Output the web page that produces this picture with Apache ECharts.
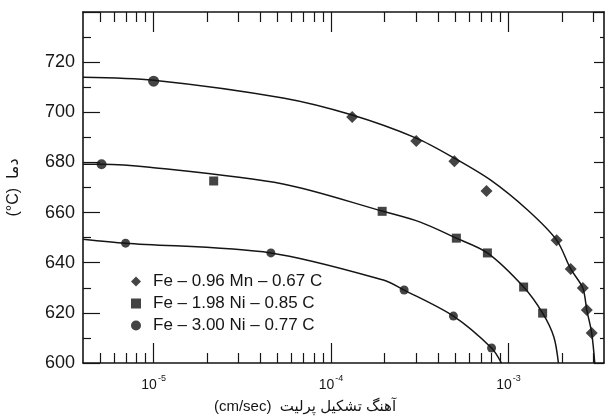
<!DOCTYPE html>
<html><head><meta charset="utf-8">
<script src="https://cdn.jsdelivr.net/npm/echarts@6/dist/echarts.min.js"></script>
<style>html,body{margin:0;padding:0;background:#fff}#c{width:605px;height:418px}</style>
</head><body><div id="c"></div>
<script>
// ---- data ----
const seriesNames = ['Fe – 0.96 Mn – 0.67 C', 'Fe – 1.98 Ni – 0.85 C', 'Fe – 3.00 Ni – 0.77 C'];

// measured points (growth rate cm/sec, temperature °C)
const mnRate   = [1.0e-5, 1.315e-4, 3.02e-4, 4.95e-4, 7.51e-4, 1.866e-3, 2.24e-3, 2.62e-3, 2.76e-3, 2.94e-3];
const mnTemp   = [712.4, 698.1, 688.5, 680.5, 668.6, 649.0, 637.5, 629.9, 621.1, 612.0];
const ni198Rate = [5.09e-6, 2.18e-5, 1.94e-4, 5.08e-4, 7.6e-4, 1.216e-3, 1.556e-3];
const ni198Temp = [679.3, 672.6, 660.5, 649.8, 643.9, 630.3, 619.9];
const ni300Rate = [6.95e-6, 4.58e-5, 2.58e-4, 4.89e-4, 8.02e-4];
const ni300Temp = [647.8, 643.9, 629.1, 618.7, 606.0];

// drawn fitted curves
const mnCurveRate = [4e-6, 1e-5, 5.36e-5, 1.315e-4, 3.02e-4, 4.95e-4, 7.9e-4, 1.28e-3, 1.866e-3, 2.24e-3, 2.62e-3, 2.76e-3, 2.94e-3, 3.06e-3];
const mnCurveTemp = [714.0, 712.8, 705.7, 698.9, 689.7, 681.7, 673.0, 661.0, 649.0, 637.5, 629.9, 621.1, 612.0, 600];
const ni198CurveRate = [4e-6, 5.09e-6, 9.5e-6, 5.36e-5, 1.94e-4, 3.18e-4, 5.08e-4, 7.6e-4, 1.216e-3, 1.556e-3, 1.80e-3, 1.91e-3];
const ni198CurveTemp = [679.3, 679.3, 678.1, 671.4, 660.6, 656.2, 649.8, 643.9, 630.3, 619.9, 610.4, 600];
const ni300CurveRate = [4e-6, 6.95e-6, 4.58e-5, 1.97e-4, 2.58e-4, 4.89e-4, 8.02e-4, 9.12e-4];
const ni300CurveTemp = [649.4, 647.8, 643.9, 633.1, 629.1, 618.7, 606.0, 600];

// axis ticks
const xMajorTicks = [1e-5, 1e-4, 1e-3];
const xMinorTicks = [5e-6, 6e-6, 7e-6, 8e-6, 9e-6,
  2e-5, 3e-5, 4e-5, 5e-5, 6e-5, 7e-5, 8e-5, 9e-5,
  2e-4, 3e-4, 4e-4, 5e-4, 6e-4, 7e-4, 8e-4, 9e-4,
  2e-3, 3e-3];
const xMin = 4e-6, xMax = 3.45e-3;
const yMin = 600, yMax = 740, yStep = 20;

const yTitle = '(°C)  دما';
const xTitle = '(cm/sec)  آهنگ تشکیل پرلیت';

// ---- build chart ----
const FONT = '"Liberation Sans", Arial, "DejaVu Sans", sans-serif';
const INK = '#151515';
const zip = (a, b) => a.map((v, i) => [v, b[i]]);

function xAxisDef(pos, ticks, len, showLine, showLabel) {
  return {
    type: 'log', position: pos, min: xMin, max: xMax, logBase: 10,
    axisLine: { show: showLine, onZero: false, lineStyle: { color: INK, width: 1.6 } },
    axisTick: { show: true, inside: true, length: len, customValues: ticks, lineStyle: { color: INK, width: 1.2 } },
    minorTick: { show: false },
    axisLabel: showLabel ? {
      show: true, customValues: xMajorTicks, margin: 11,
      formatter: v => '{b|10}{s|' + Math.round(Math.log10(v)) + '}',
      rich: {
        b: { fontSize: 14, fontFamily: FONT, color: INK, lineHeight: 18, verticalAlign: 'bottom' },
        s: { fontSize: 9, fontFamily: FONT, color: INK, lineHeight: 18, verticalAlign: 'top', padding: [0, 0, 0, 1] }
      }
    } : { show: false },
    splitLine: { show: false }
  };
}

function yAxisDef(pos, len, minorLen, showLabel) {
  return {
    type: 'value', position: pos, min: yMin, max: yMax, interval: yStep,
    axisLine: { show: true, onZero: false, lineStyle: { color: INK, width: 1.6 } },
    axisTick: { show: true, inside: true, length: len, lineStyle: { color: INK, width: 1.2 } },
    minorTick: { show: true, splitNumber: 2, length: minorLen, lineStyle: { color: INK, width: 1.2 } },
    axisLabel: showLabel ? { show: true, fontSize: 18, fontFamily: FONT, color: INK, margin: 8, showMaxLabel: false } : { show: false },
    splitLine: { show: false },
    name: showLabel ? yTitle : '',
    nameLocation: 'middle', nameGap: 61, nameRotate: 90,
    nameTextStyle: { fontSize: 16, fontFamily: FONT, color: INK }
  };
}

const curveStyle = { color: INK, width: 1.5 };
function curve(rates, temps) {
  return {
    type: 'line', data: zip(rates, temps), smooth: 0.3, showSymbol: false, symbol: 'none',
    lineStyle: curveStyle, silent: true, z: 2, xAxisIndex: 0, yAxisIndex: 0
  };
}

const chart = echarts.init(document.getElementById('c'), null, { renderer: 'canvas' });
chart.setOption({
  animation: false,
  backgroundColor: '#fff',
  grid: { left: 83, right: 1, top: 12, bottom: 55, containLabel: false, outerBoundsMode: 'none' },
  xAxis: [
    xAxisDef('bottom', xMajorTicks, 20, true, true),
    xAxisDef('bottom', xMinorTicks, 10, false, false),
    xAxisDef('top', xMajorTicks, 20, true, false),
    xAxisDef('top', xMinorTicks, 10, false, false)
  ],
  yAxis: [
    yAxisDef('left', 17, 8, true),
    yAxisDef('right', 10, 4, false)
  ],
  legend: {
    orient: 'vertical', left: 126, top: 268, itemWidth: 10, itemHeight: 10, itemGap: 5,
    data: seriesNames, selectedMode: false,
    textStyle: { fontSize: 17, fontFamily: FONT, color: INK, padding: [0, 0, 0, 7] }
  },
  graphic: [{
    type: 'text',
    style: { text: xTitle, x: 305, y: 407, textAlign: 'center', textVerticalAlign: 'middle', fontSize: 15, fontFamily: FONT, fill: INK }
  }],
  series: [
    curve(mnCurveRate, mnCurveTemp),
    curve(ni198CurveRate, ni198CurveTemp),
    curve(ni300CurveRate, ni300CurveTemp),
    {
      name: seriesNames[0], type: 'scatter', symbol: 'diamond', symbolSize: 12, z: 5,
      itemStyle: { color: INK },
      data: zip(mnRate, mnTemp).map((d, i) => i === 0 ? { value: d, symbol: 'circle', symbolSize: 11 } : d)
    },
    {
      name: seriesNames[1], type: 'scatter', symbol: 'rect', symbolSize: 9, z: 5,
      itemStyle: { color: INK },
      data: zip(ni198Rate, ni198Temp).map((d, i) => i === 0 ? { value: d, symbol: 'circle', symbolSize: 10 } : d)
    },
    {
      name: seriesNames[2], type: 'scatter', symbol: 'circle', symbolSize: 9, z: 5,
      itemStyle: { color: INK },
      data: zip(ni300Rate, ni300Temp)
    }
  ]
});
</script></body></html>
